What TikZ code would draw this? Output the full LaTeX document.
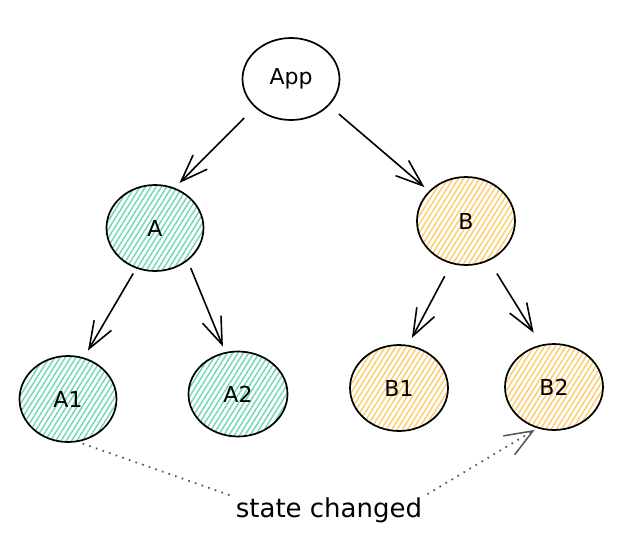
\documentclass[tikz,border=0pt]{standalone}
\usepackage{fontspec}
\setmainfont{DejaVu Sans}
\usetikzlibrary{arrows.meta,shapes.geometric,patterns.meta}
\definecolor{hatchA}{HTML}{6ED6B2}
\definecolor{hatchB}{HTML}{FDCB66}
\definecolor{noteGray}{HTML}{555555}
\tikzset{
  comp/.style={ellipse, draw, line width=1.7pt, inner sep=0pt,
    minimum width=97pt, minimum height=86pt,
    font=\fontsize{22}{26}\selectfont},
  compA/.style={comp, pattern={Lines[angle=58,distance=4.5pt,line width=1.4pt]}, pattern color=hatchA},
  compB/.style={comp, pattern={Lines[angle=58,distance=4.5pt,line width=1.4pt]}, pattern color=hatchB},
  arr/.style={line width=1.6pt, -{Straight Barb[length=27pt,width=20pt,line width=1.6pt]}},
  note/.style={noteGray, line width=1.8pt, dash pattern=on 1.6pt off 5.4pt},
  notetip/.style={-{Straight Barb[length=28pt,width=22pt,line width=1.5pt,sep=0pt]}}
}
\begin{document}
\begin{tikzpicture}[x=1pt,y=-1pt]
  \useasboundingbox (0,0) rectangle (625,547);
  \draw
    (291,79) node[comp, minimum height=82pt] (App){App}
    (155,228) node[compA] (A){A}
    (466,221) node[compB, minimum width=98pt, minimum height=88pt] (B){B}
    (68,399) node[compA] (A1){A1}
    (238,394) node[compA, minimum width=99pt, minimum height=85pt] (A2){A2}
    (399,388) node[compB, minimum width=98pt] (B1){B1}
    (554,387) node[compB, minimum width=98pt] (B2){B2}
    (329,510) node[inner sep=0pt, font=\fontsize{26}{30}\selectfont] (state){state changed};
  \begin{scope}[arr]
    \draw[shorten <=15pt, shorten >=7pt] (App.218) to (A.64);
    \draw[shorten <=13pt, shorten >=6pt] (App.-35) to (B.141);
    \draw[shorten <=6pt, shorten >=8pt] (A.245) to (A1.69);
    \draw[shorten <=8pt, shorten >=6pt] (A.-45) to (A2.107);
    \draw[shorten <=14pt, shorten >=8pt] (B.251) to (B1.78);
    \draw[shorten <=15pt, shorten >=14pt] (B.-60) to (B2.107);
  \end{scope}
  % dotted notes
  \draw[note, shorten <=5pt, shorten >=6pt] (A1.-77) to (state.north west);
  \draw[note, notetip, shorten <=6pt, shorten >=3pt] (state.north east) to (B2.248);
\end{tikzpicture}
\end{document}
